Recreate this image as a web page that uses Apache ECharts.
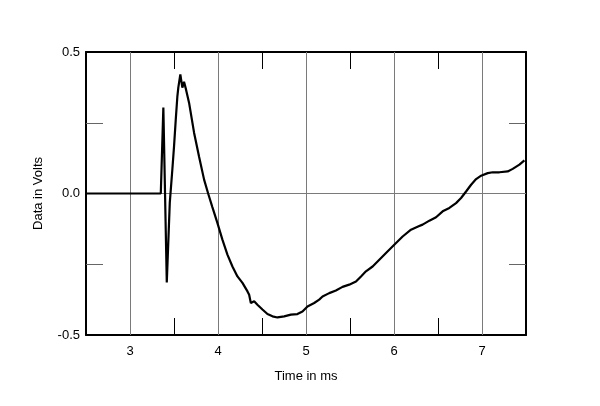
<!DOCTYPE html>
<html>
<head>
<meta charset="utf-8">
<script src="https://cdn.jsdelivr.net/npm/echarts@6/dist/echarts.min.js"></script>
<style>html,body{margin:0;padding:0;background:#fff}#c{width:600px;height:406px}</style>
</head>
<body>
<div id="c"></div>
<script>
var times = [2.5, 3.35, 3.379, 3.418, 3.452, 3.47, 3.481, 3.5, 3.52, 3.538, 3.549, 3.572, 3.595, 3.614, 3.637, 3.671, 3.728, 3.785, 3.842, 3.888, 3.936, 3.993, 4.05, 4.107, 4.164, 4.221, 4.278, 4.335, 4.354, 4.373, 4.411, 4.448, 4.505, 4.562, 4.619, 4.676, 4.752, 4.828, 4.903, 4.96, 5.017, 5.093, 5.15, 5.188, 5.264, 5.34, 5.415, 5.491, 5.568, 5.625, 5.681, 5.757, 5.833, 5.909, 6.003, 6.098, 6.193, 6.28, 6.325, 6.402, 6.478, 6.553, 6.629, 6.705, 6.762, 6.819, 6.876, 6.933, 6.99, 7.065, 7.122, 7.198, 7.292, 7.349, 7.425, 7.482];
var volts = [0, 0, 0.304, -0.314, -0.033, -0.04, 0.084, 0.165, 0.261, 0.342, 0.374, 0.421, 0.374, 0.395, 0.367, 0.321, 0.215, 0.13, 0.049, 0, -0.048, -0.104, -0.163, -0.216, -0.258, -0.293, -0.316, -0.346, -0.358, -0.387, -0.381, -0.393, -0.41, -0.426, -0.434, -0.438, -0.434, -0.428, -0.426, -0.417, -0.399, -0.387, -0.375, -0.364, -0.352, -0.343, -0.33, -0.322, -0.311, -0.293, -0.275, -0.258, -0.234, -0.21, -0.181, -0.152, -0.128, -0.116, -0.11, -0.096, -0.084, -0.063, -0.051, -0.034, -0.016, 0.007, 0.031, 0.051, 0.063, 0.072, 0.075, 0.075, 0.078, 0.087, 0.102, 0.117];
var xLabels = [3, 4, 5, 6, 7];
var xMinorTicks = [3.5, 4.5, 5.5, 6.5];
var yLabels = [-0.5, 0, 0.5];
var yMinorTicks = [-0.25, 0.25];
var gridX = [3, 4, 5, 6, 7];
var gridY = [0];

var data = times.map(function (t, i) { return [t, volts[i]]; });
var font = 'Liberation Sans, Arial, sans-serif';

function xAxisDef(pos, showLabel) {
  return {
    type: 'value', position: pos, min: 2.5, max: 7.5, interval: 0.5,
    name: showLabel ? 'Time in ms' : '', nameLocation: 'middle', nameGap: 35,
    nameTextStyle: { color: '#000', fontFamily: font, fontSize: 13 },
    axisLine: { show: true, onZero: false, lineStyle: { color: '#000', width: 2 } },
    axisTick: { show: true, inside: true, length: 17, customValues: xMinorTicks, lineStyle: { color: '#000', width: 1 } },
    axisLabel: { show: showLabel, customValues: xLabels, margin: 10, color: '#000', fontFamily: font, fontSize: 13,
      formatter: function (v) { return String(v); } },
    splitLine: { show: false }
  };
}
function yAxisDef(pos, showLabel) {
  return {
    type: 'value', position: pos, min: -0.5, max: 0.5, interval: 0.25,
    name: showLabel ? 'Data in Volts' : '', nameLocation: 'middle', nameGap: 41, nameRotate: 90,
    nameTextStyle: { color: '#000', fontFamily: font, fontSize: 13 },
    axisLine: { show: true, onZero: false, lineStyle: { color: '#000', width: 2 } },
    axisTick: { show: true, inside: true, length: 17, customValues: yMinorTicks, lineStyle: { color: '#666', width: 1 } },
    axisLabel: { show: showLabel, customValues: yLabels, margin: 6, color: '#000', fontFamily: font, fontSize: 13,
      formatter: function (v) { return v.toFixed(1); } },
    splitLine: { show: false }
  };
}

var chart = echarts.init(document.getElementById('c'), null, { renderer: 'canvas' });
chart.setOption({
  animation: false,
  backgroundColor: '#fff',
  grid: { left: 86, right: 74, top: 52, bottom: 71, containLabel: false },
  xAxis: [xAxisDef('bottom', true), xAxisDef('top', false)],
  yAxis: [yAxisDef('left', true), yAxisDef('right', false)],
  series: [
    {
      type: 'line', data: [], z: 1, silent: true,
      markLine: {
        silent: true, symbol: 'none', animation: false,
        label: { show: false },
        lineStyle: { color: '#7a7a7a', width: 1, type: 'solid' },
        data: gridX.map(function (v) { return { xAxis: v }; }).concat(gridY.map(function (v) { return { yAxis: v }; }))
      }
    },
    {
      type: 'line', data: data, z: 5, showSymbol: false, smooth: false,
      lineStyle: { color: '#000', width: 2.2 }, itemStyle: { color: '#000' }
    }
  ]
});
</script>
</body>
</html>
